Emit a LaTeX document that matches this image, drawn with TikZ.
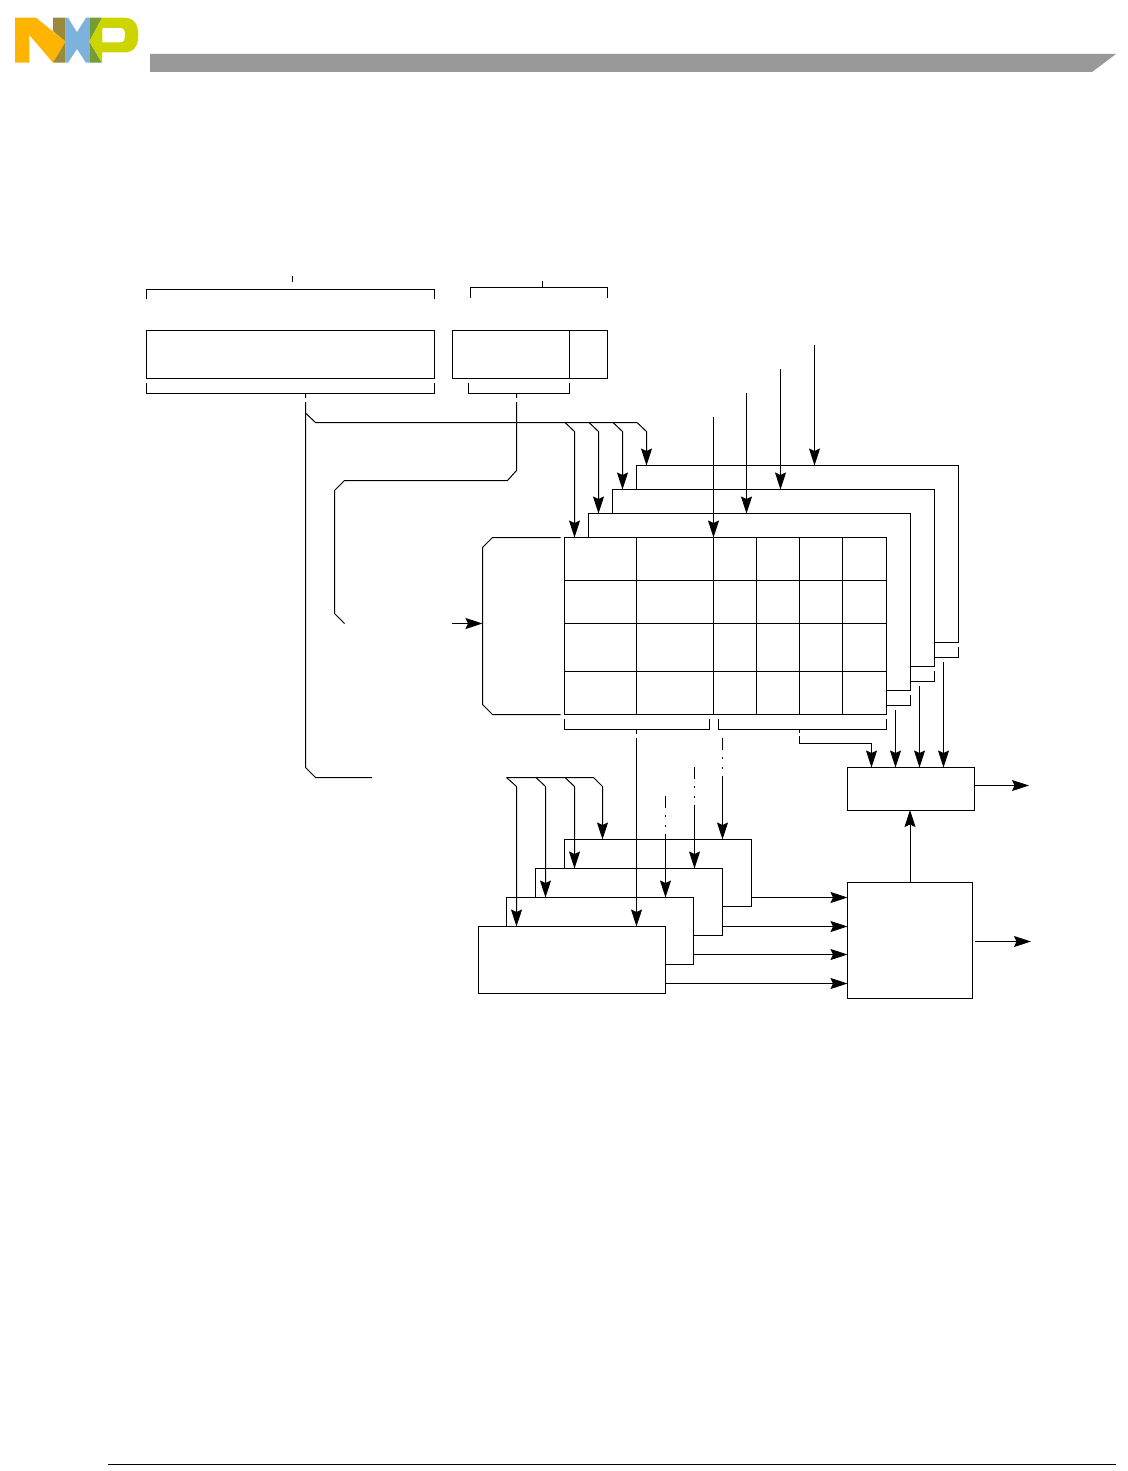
\documentclass[tikz,border=0pt]{standalone}
\usepackage{xcolor}
\usetikzlibrary{arrows.meta, positioning}
\definecolor{nxpyellow}{HTML}{FFB500}
\definecolor{nxpolive}{HTML}{9B8A3A}
\definecolor{nxpblue}{HTML}{7CB2DC}
\definecolor{nxpgreen}{HTML}{739E35}
\definecolor{nxplime}{HTML}{CDD500}
\definecolor{headbar}{HTML}{999999}
\tikzset{
  block/.style={rectangle, draw=black, fill=white, line width=1pt,
                inner sep=0pt, outer sep=0pt, anchor=north west},
  regbox/.style={block, minimum width=322pt, minimum height=177pt},
  trackbox/.style={block, minimum width=187pt, minimum height=67pt},
  wire/.style={line width=1pt},
  arrow/.style={-{Stealth[length=17pt, width=11pt, inset=2.5pt]}, line width=1pt},
  gapped/.style={dash pattern=on 4.5pt off 4pt on 2000pt},
  dashdotted/.style={dash pattern=on 12.4pt off 6.6pt on 2pt off 8pt on 2pt off 6.5pt on 2000pt},
}

\begin{document}
\begin{tikzpicture}[x=1pt, y=-1pt]
  \useasboundingbox (0,0) rectangle (1127,1471);

  % ---- page head and foot ----
  \fill[nxpyellow] (15,17.7) -- (36,17.7) -- (65.7,41.5) -- (53,62.7) -- (29.3,35)
    -- (29.3,62.7) -- (15,62.7) -- cycle;
  \fill[nxpolive] (53,17.7) -- (65.7,17.7) -- (65.7,41.5) -- (53,31) -- cycle;
  \fill[nxpolive] (65.7,41.5) -- (65.7,62.7) -- (53,62.7) -- cycle;
  \fill[nxpblue] (65.7,17.7) -- (68,17.7) -- (77,32.3) -- (86,17.7) -- (89.3,17.7)
    -- (89.3,62.7) -- (86,62.7) -- (77,49) -- (68,62.7) -- (65.7,62.7) -- cycle;
  \fill[nxpgreen] (89.3,17.7) -- (102,17.7) -- (89.3,41.5) -- cycle;
  \fill[nxpgreen] (89.3,41.5) -- (102,62.7) -- (89.3,62.7) -- cycle;
  \fill[nxplime, even odd rule] (102,17.7) -- (124,17.7)
    .. controls (134,17.7) and (138.3,24) .. (138.3,35)
    .. controls (138.3,46) and (134,52.5) .. (124,52.5) -- (102,52.5) -- (102,62.7)
    -- (89.3,41.5) -- cycle
    (102.3,28) -- (121,28) .. controls (124,28) and (125,31) .. (125,35)
    .. controls (125,39) and (124,42.3) .. (121,42.3) -- (102.3,42.3) -- cycle;
  \fill[headbar] (150,54) -- (1116,54) -- (1092,72) -- (150,72) -- cycle;
  \draw[wire] (108,1464) -- (1116,1464);

  % ---- address fields ----
  \node[block, minimum width=288pt, minimum height=48pt] (tag) at (146.5,330.5) {};
  \node[block, minimum width=117pt, minimum height=48pt] (idx) at (452.5,330.5) {};
  \node[block, minimum width=38pt, minimum height=48pt] (off) at (idx.north east) {};

  \draw[wire] (146.5,299) |- (434.5,289.5) -- (434.5,299);
  \draw[wire] (292.5,276) -- (292.5,282);
  \draw[wire] (470.5,298) |- (607.5,287.5) -- (607.5,298);
  \draw[wire] (542.5,281) -- (542.5,287.5);
  \draw[wire] (146.5,383) |- (434.5,393.5) -- (434.5,383);
  \draw[wire] (468.5,383) |- (569.5,393.5) -- (569.5,383);

  % ---- four ways, back to front ----
  \node[regbox] (way1) at (636.5,465.5) {};
  \node[regbox, xshift=-24pt, yshift=-24pt] (way2) at (way1.north west) {};
  \node[regbox, xshift=-24pt, yshift=-24pt] (way3) at (way2.north west) {};
  \node[regbox, xshift=-24pt, yshift=-24pt] (way4) at (way3.north west) {};

  \draw[wire] (636.5,537.5) -- (636.5,714.5);
  \draw[wire] (713.5,537.5) -- (713.5,714.5);
  \draw[wire] (756.5,537.5) -- (756.5,714.5);
  \draw[wire] (799.5,537.5) -- (799.5,714.5);
  \draw[wire] (842.5,537.5) -- (842.5,714.5);
  \draw[wire] (564.5,580.5) -- (886.5,580.5);
  \draw[wire] (564.5,623.5) -- (886.5,623.5);
  \draw[wire] (564.5,671.5) -- (886.5,671.5);

  \draw[wire] (564.5,719) |- (709.5,729.5) -- (709.5,719);
  \draw[wire] (718.5,719) |- (886.5,729.5) -- (886.5,719);
  \draw[wire] (910.5,695) |- (886.5,705.5);
  \draw[wire] (934.5,671) |- (910.5,681.5);
  \draw[wire] (958.5,647) |- (934.5,657.5);

  % ---- decoder in front of the ways ----
  \coordinate (decin) at (452,623.5);
  \coordinate (decleft) at (482.5,623.5);
  \draw[wire] (560.5,537.5) -- (492.5,537.5) -- (482.5,547.5) -- (482.5,704.5)
    -- (492.5,714.5) -- (560.5,714.5);
  \draw[arrow] (decin) -- (decleft);

  % ---- lookup ----
  \coordinate (tagbus) at (305.5,393.5);
  \coordinate (tagend) at (372,777.5);
  \coordinate (idxbus) at (516.5,393.5);
  \coordinate (idxend) at (344.5,623.5);
  \draw[wire, gapped] (tagbus) -- (305.5,767.5) -- (315.5,777.5) -- (tagend);
  \draw[wire, gapped] (idxbus) -- (516.5,470.5) -- (507.5,480.5) -- (344.5,480.5)
    -- (334.5,490.5) -- (334.5,613.5) -- (idxend);

  \coordinate (hit1) at (646.5,431.5);
  \coordinate (hit2) at (622.5,431.5);
  \coordinate (hit3) at (598.5,431.5);
  \coordinate (hit4) at (574.5,431.5);
  \draw[arrow] (305.5,413) -- (315.5,422.5) -- (637,422.5) -- (hit1) -- (hit1 |- way1.north);
  \draw[arrow] (613,422.5) -- (hit2) -- (hit2 |- way2.north);
  \draw[arrow] (589,422.5) -- (hit3) -- (hit3 |- way3.north);
  \draw[arrow] (565,422.5) -- (hit4) -- (hit4 |- way4.north);

  \coordinate (wr1) at (814.5,345);
  \coordinate (wr2) at (780.5,369);
  \coordinate (wr3) at (746.5,393);
  \coordinate (wr4) at (713.5,417);
  \draw[arrow] (wr1) -- (wr1 |- way1.north);
  \draw[arrow] (wr2) -- (wr2 |- way2.north);
  \draw[arrow] (wr3) -- (wr3 |- way3.north);
  \draw[arrow] (wr4) -- (wr4 |- way4.north);

  % ---- mux and select logic ----
  \node[block, minimum width=127pt, minimum height=42.5pt] (sel) at (847.5,767.5) {};
  \node[block, minimum width=125pt, minimum height=116pt] (mux) at (847.5,882.5) {};

  \coordinate (s1) at (871.5,743.5);
  \coordinate (s2) at (895.5,710);
  \coordinate (s3) at (919.5,686);
  \coordinate (s4) at (943.5,662);
  \draw[wire] (799.5,729.5) -- (799.5,733);
  \draw[arrow] (799.5,736) |- (s1) -- (s1 |- sel.north);
  \draw[arrow] (s2) -- (s2 |- sel.north);
  \draw[arrow] (s3) -- (s3 |- sel.north);
  \draw[arrow] (s4) -- (s4 |- sel.north);

  \coordinate (selout) at (1029,785.5);
  \coordinate (muxout) at (1031,941.5);
  \draw[arrow] (sel.east |- selout) -- (selout);
  \draw[arrow] (974.5,941.5) -- (muxout);
  \draw[arrow] (mux.north) -- (mux.north |- sel.south);

  % ---- data stores, back to front ----
  \node[trackbox] (dat1) at (564.5,839.5) {};
  \node[trackbox, xshift=-29pt, yshift=-29pt] (dat2) at (dat1.north west) {};
  \node[trackbox, xshift=-29pt, yshift=-29pt] (dat3) at (dat2.north west) {};
  \node[trackbox, xshift=-28pt, yshift=-29pt] (dat4) at (dat3.north west) {};

  \coordinate (m1) at (847.5,897.5);
  \coordinate (m2) at (847.5,926.5);
  \coordinate (m3) at (847.5,954.5);
  \coordinate (m4) at (847.5,983.5);
  \draw[arrow] (dat1.east |- m1) -- (m1);
  \draw[arrow] (dat2.east |- m2) -- (m2);
  \draw[arrow] (dat3.east |- m3) -- (m3);
  \draw[arrow] (dat4.east |- m4) -- (m4);

  \coordinate (we1) at (602.5,786.5);
  \coordinate (we2) at (574.5,786.5);
  \coordinate (we3) at (545.5,786.5);
  \coordinate (we4) at (516.5,786.5);
  \draw[arrow] (506.5,777.5) -- (593.5,777.5) -- (we1) -- (we1 |- dat1.north);
  \draw[arrow] (565,777.5) -- (we2) -- (we2 |- dat2.north);
  \draw[arrow] (536,777.5) -- (we3) -- (we3 |- dat3.north);
  \draw[arrow] (506.5,777.5) -- (we4) -- (we4 |- dat4.north);

  \coordinate (bus1) at (722.5,738);
  \coordinate (bus2) at (694.5,767);
  \coordinate (bus3) at (665.5,796);
  \coordinate (bus4) at (636.5,729.5);
  \draw[arrow, dashdotted] (bus1) -- (bus1 |- dat1.north);
  \draw[arrow, dashdotted] (bus2) -- (bus2 |- dat2.north);
  \draw[arrow, dashdotted] (bus3) -- (bus3 |- dat3.north);
  \draw[arrow, gapped] (bus4) -- (bus4 |- dat4.north);
\end{tikzpicture}
\end{document}
